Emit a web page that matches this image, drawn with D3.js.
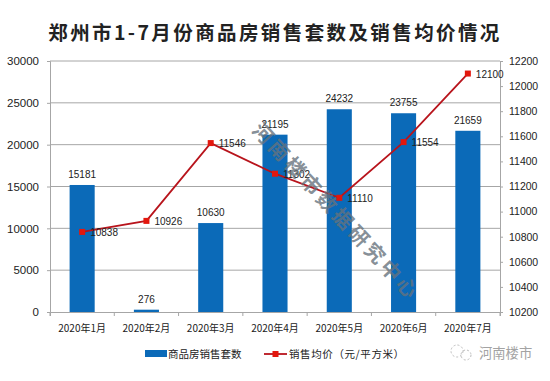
<!DOCTYPE html>
<html>
<head>
<meta charset="utf-8">
<script src="https://cdnjs.cloudflare.com/ajax/libs/d3/7.8.5/d3.min.js"></script>
<style>
    html, body { margin:0; padding:0; background:#fff; }
    text { font-family:"Noto Sans CJK SC","DejaVu Sans",sans-serif; fill:#222; }
    text.num { font-family:"Liberation Sans",sans-serif; }
</style>
</head>
<body>
<div id="chart"></div>
<script>
// chart data
const months = ['2020年1月','2020年2月','2020年3月','2020年4月','2020年5月','2020年6月','2020年7月'];
const sales = [15181,276,10630,21195,24232,23755,21659];
const prices = [10838,10926,11546,11302,11110,11554,12100];
const salesTicks = [0,5000,10000,15000,20000,25000,30000];
const priceTicks = [10200,10400,10600,10800,11000,11200,11400,11600,11800,12000,12200];
const titleText = '郑州市1-7月份商品房销售套数及销售均价情况';
const salesName = '商品房销售套数';
const priceName = '销售均价（元/平方米）';
const watermarkText = '河南楼市数据研究中心';
const brandText = '河南楼市';

const width = 550, height = 381;
const margin = {t:61, r:50, b:69, l:50};

const svg = d3.select('#chart').append('svg')
    .attr('width', width)
    .attr('height', height)
    .style('display', 'block');

// setting up scales
const x = d3.scaleBand().domain(months).range([margin.l, width - margin.r]);
const ySales = d3.scaleLinear().domain([0,30000]).range([height - margin.b, margin.t]);
const yPrice = d3.scaleLinear().domain([10200,12200]).range([height - margin.b, margin.t]);
const barWidth = x.bandwidth() * 0.39;

// title
svg.append('text')
    .attr('x', 275).attr('y', 40)
    .attr('text-anchor', 'middle')
    .style('font-size', '19.5px')
    .style('font-weight', 700)
    .style('letter-spacing', '2.4px')
    .text(titleText);

// gridlines
svg.append('g').selectAll('line')
    .data(salesTicks.slice(1))
    .join('line')
    .attr('x1', margin.l).attr('x2', width - margin.r)
    .attr('y1', d => ySales(d)).attr('y2', d => ySales(d))
    .style('stroke', '#a6a6a6')
    .style('stroke-width', 1);

// bars
svg.append('g').selectAll('rect')
    .data(sales)
    .join('rect')
    .attr('x', (d,i) => x(months[i]) + (x.bandwidth() - barWidth)/2)
    .attr('y', d => ySales(d))
    .attr('width', barWidth)
    .attr('height', d => ySales(0) - ySales(d))
    .style('fill', '#0b6ab8');

// axes
const styleAxis = g => {
    g.selectAll('path,line').style('stroke', '#a6a6a6').style('stroke-width', 1);
    g.selectAll('text').style('fill', '#222');
};
svg.append('g')
    .attr('transform', `translate(0,${height - margin.b})`)
    .call(d3.axisBottom(x).tickSize(4).tickSizeOuter(4).tickValues([]))
    .call(styleAxis);
svg.append('g').selectAll('line')
    .data(months.concat(['end']))
    .join('line')
    .attr('x1', (d,i) => margin.l + i*x.step())
    .attr('x2', (d,i) => margin.l + i*x.step())
    .attr('y1', height - margin.b).attr('y2', height - margin.b + 4)
    .style('stroke', '#a6a6a6');
svg.append('g').selectAll('text')
    .data(months)
    .join('text')
    .attr('x', d => x(d) + x.bandwidth()/2)
    .attr('y', height - margin.b + 20)
    .attr('text-anchor', 'middle')
    .style('font-size', '10px')
    .text(d => d);

svg.append('g')
    .attr('transform', `translate(${margin.l},0)`)
    .call(d3.axisLeft(ySales).tickValues(salesTicks).tickFormat(d3.format('d')).tickSize(3))
    .call(styleAxis)
    .call(g => g.selectAll('text').attr('class','num').style('font-size','11.5px').attr('x',-11));

svg.append('g')
    .attr('transform', `translate(${width - margin.r},0)`)
    .call(d3.axisRight(yPrice).tickValues(priceTicks).tickFormat(d3.format('d')).tickSize(3))
    .call(styleAxis)
    .call(g => g.selectAll('text').attr('class','num').style('font-size','10.5px').attr('x',9));

// price line
const line = d3.line()
    .x((d,i) => x(months[i]) + x.bandwidth()/2)
    .y(d => yPrice(d));
svg.append('path')
    .datum(prices)
    .attr('d', line)
    .style('fill', 'none')
    .style('stroke', '#b8141c')
    .style('stroke-width', 1.8);
svg.append('g').selectAll('rect')
    .data(prices)
    .join('rect')
    .attr('x', (d,i) => x(months[i]) + x.bandwidth()/2 - 3)
    .attr('y', d => yPrice(d) - 3)
    .attr('width', 6).attr('height', 6)
    .style('fill', '#e3170d');

// data labels
svg.append('g').selectAll('text')
    .data(sales)
    .join('text')
    .attr('class','num')
    .attr('x', (d,i) => x(months[i]) + x.bandwidth()/2)
    .attr('y', d => ySales(d) - 7)
    .attr('text-anchor', 'middle')
    .style('font-size', '10px')
    .text(d => d);
svg.append('g').selectAll('text')
    .data(prices)
    .join('text')
    .attr('class','num')
    .attr('x', (d,i) => x(months[i]) + x.bandwidth()/2 + 8)
    .attr('y', d => yPrice(d) + 4)
    .style('font-size', '10px')
    .text(d => d);

// legend
const legend = svg.append('g');
legend.append('rect')
    .attr('x', 145).attr('y', 350)
    .attr('width', 22).attr('height', 7)
    .style('fill', '#0b6ab8');
legend.append('text')
    .attr('x', 168).attr('y', 358)
    .style('font-size', '10.5px')
    .text(salesName);
legend.append('line')
    .attr('x1', 264).attr('x2', 287)
    .attr('y1', 354).attr('y2', 354)
    .style('stroke', '#b8141c').style('stroke-width', 1.8);
legend.append('rect')
    .attr('x', 272.5).attr('y', 351)
    .attr('width', 6).attr('height', 6)
    .style('fill', '#e3170d');
legend.append('text')
    .attr('x', 289).attr('y', 358)
    .style('font-size', '10.5px')
    .style('letter-spacing', '0.6px')
    .text(priceName);

// diagonal watermark
svg.append('text')
    .attr('transform', 'translate(251,131) rotate(47)')
    .style('font-size', '20px')
    .style('font-weight', 700)
    .style('letter-spacing', '3.4px')
    .style('fill', '#66727c')
    .style('fill-opacity', 0.8)
    .text(watermarkText);

// brand mark
svg.append('circle').attr('cx', 457).attr('cy', 351).attr('r', 6)
    .style('fill', 'none').style('stroke', '#bbb').style('stroke-dasharray', '2 2');
svg.append('circle').attr('cx', 466).attr('cy', 355).attr('r', 5)
    .style('fill', 'none').style('stroke', '#bbb').style('stroke-dasharray', '2 2');
svg.append('text')
    .attr('x', 479).attr('y', 358)
    .style('font-size', '13.3px')
    .style('fill', '#a3a3a3')
    .text(brandText);
</script>
</body>
</html>
